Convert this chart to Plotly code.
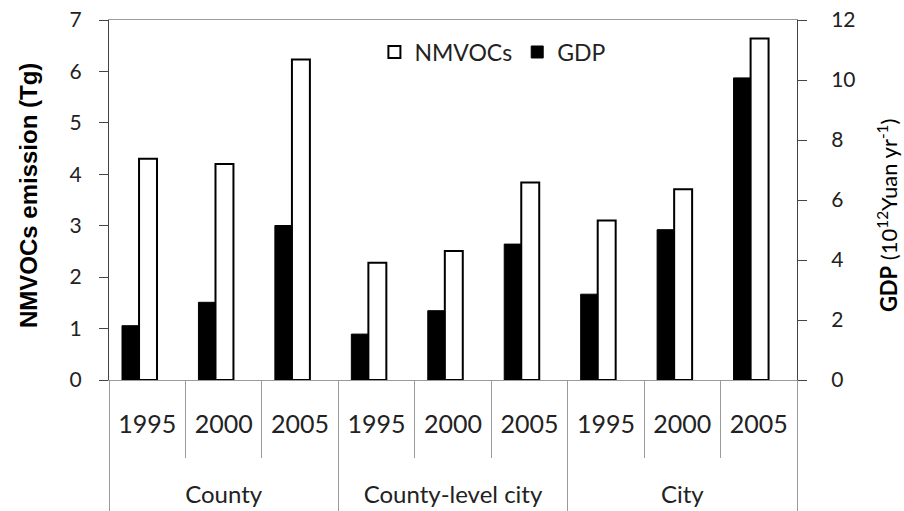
import plotly.graph_objects as go

groups = ["County", "County-level city", "City"]
years = ["1995", "2000", "2005"]
nmvocs = [4.30, 4.20, 6.23, 2.28, 2.51, 3.84, 3.10, 3.71, 6.64]   # Tg (left axis)
gdp = [1.81, 2.59, 5.15, 1.53, 2.31, 4.53, 2.86, 5.01, 10.07]      # 10^12 Yuan/yr (right axis)

cats = [f"{g} {y}" for g in groups for y in years]
year_labels = [y for g in groups for y in years]

FONT = "Lato"
AXC = "#444444"
DIVC = "#9a9a9a"

fig = go.Figure()
fig.add_trace(go.Bar(
    x=cats, y=nmvocs, name="NMVOCs", yaxis="y", xaxis="x",
    marker=dict(color="white", line=dict(color="black", width=2)),
    width=0.235, offset=-0.107,
))
fig.add_trace(go.Bar(
    x=cats, y=gdp, name="GDP", yaxis="y2", xaxis="x",
    marker=dict(color="black", line=dict(color="black", width=1)),
    width=0.222, offset=-0.33,
))
# invisible helper trace to register group categories on the secondary x axis
fig.add_trace(go.Scatter(
    x=groups, y=[0, 0, 0], xaxis="x2", yaxis="y", mode="markers",
    marker=dict(opacity=0), showlegend=False, hoverinfo="skip",
))

fig.update_layout(
    width=904, height=511,
    margin=dict(l=109, r=107, t=20, b=131),
    paper_bgcolor="white", plot_bgcolor="white",
    barmode="overlay",
    showlegend=True,
    legend=dict(orientation="h", x=0.558, y=0.911, xanchor="center", yanchor="middle",
                font=dict(family=FONT, size=23, color="#222"), bgcolor="rgba(0,0,0,0)",
                itemwidth=30, tracegroupgap=0),
    xaxis=dict(
        type="category", categoryorder="array", categoryarray=cats,
        range=[-0.5, 8.5], tickvals=cats, ticktext=year_labels,
        tickson="boundaries", ticks="outside", ticklen=77, tickcolor=DIVC, tickwidth=1,
        ticklabelstandoff=22,
        tickfont=dict(family=FONT, size=25, color="#222"),
        showline=True, linecolor=DIVC, linewidth=1, mirror=True,
        showgrid=False, zeroline=False, automargin=False,
    ),
    xaxis2=dict(
        type="category", categoryorder="array", categoryarray=groups,
        overlaying="x", side="bottom", anchor="y", range=[-0.5, 2.5],
        tickson="boundaries", ticks="outside", ticklen=135, tickcolor=DIVC, tickwidth=1,
        ticklabelstandoff=98,
        tickfont=dict(family=FONT, size=24, color="#222"),
        showline=False, showgrid=False, zeroline=False, automargin=False,
    ),
    yaxis=dict(
        range=[0, 7], dtick=1, ticks="outside", ticklen=9, tickcolor=AXC,
        showline=True, linecolor=AXC, linewidth=1, showgrid=False, zeroline=False,
        tickfont=dict(family=FONT, size=21, color="#222"), ticklabelstandoff=13,
        automargin=False,
    ),
    yaxis2=dict(
        range=[0, 12], dtick=2, overlaying="y", side="right", anchor="x",
        ticks="outside", ticklen=9, tickcolor=AXC,
        showline=True, linecolor=AXC, linewidth=1, showgrid=False, zeroline=False,
        tickfont=dict(family=FONT, size=21, color="#222"), ticklabelstandoff=20,
        automargin=False,
    ),
    annotations=[
        dict(text="<b>NMVOCs emission (Tg)</b>", textangle=-90, xref="paper", yref="paper",
             x=-0.1177, y=0.511, xanchor="center", yanchor="middle", showarrow=False,
             font=dict(family="Liberation Sans", size=24, color="black")),
        dict(text="<b>GDP</b> (10<sup>12</sup>Yuan yr<sup>-1</sup>)", textangle=-90,
             xref="paper", yref="paper", x=1.1308, y=0.458, xanchor="center", yanchor="middle",
             showarrow=False, font=dict(family=FONT, size=22, color="black")),
    ],
)

fig.write_html("out.html", config={"displayModeBar": False},
               post_script="document.body.style.margin='0';")
